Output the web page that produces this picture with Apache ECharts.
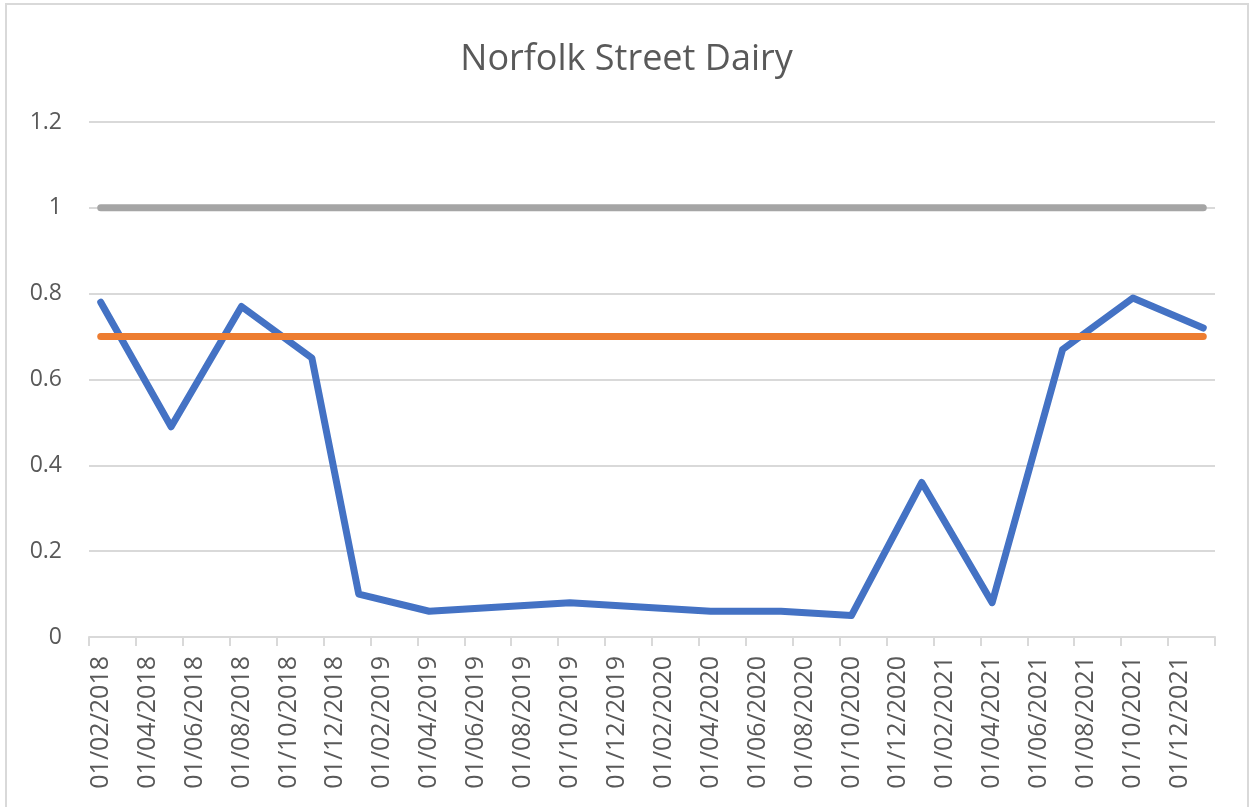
<!DOCTYPE html>
<html>
<head>
<meta charset="utf-8">
<title>Norfolk Street Dairy</title>
<script src="https://cdn.jsdelivr.net/npm/echarts@6/dist/echarts.min.js"></script>
<style>
    html, body { margin: 0; padding: 0; background: #ffffff; }
    #chart { width: 1253px; height: 807px; }
</style>
</head>
<body>
<div id="chart"></div>
<script>
// ── Data ────────────────────────────────────────
// one category per month, the axis labels every second one
const months = [
    '01/02/2018', '01/03/2018', '01/04/2018', '01/05/2018', '01/06/2018', '01/07/2018',
    '01/08/2018', '01/09/2018', '01/10/2018', '01/11/2018', '01/12/2018', '01/01/2019',
    '01/02/2019', '01/03/2019', '01/04/2019', '01/05/2019', '01/06/2019', '01/07/2019',
    '01/08/2019', '01/09/2019', '01/10/2019', '01/11/2019', '01/12/2019', '01/01/2020',
    '01/02/2020', '01/03/2020', '01/04/2020', '01/05/2020', '01/06/2020', '01/07/2020',
    '01/08/2020', '01/09/2020', '01/10/2020', '01/11/2020', '01/12/2020', '01/01/2021',
    '01/02/2021', '01/03/2021', '01/04/2021', '01/05/2021', '01/06/2021', '01/07/2021',
    '01/08/2021', '01/09/2021', '01/10/2021', '01/11/2021', '01/12/2021', '01/01/2022'
];

const sampleDates = [
    '01/02/2018', '01/05/2018', '01/08/2018', '01/11/2018', '01/01/2019', '01/04/2019',
    '01/07/2019', '01/10/2019', '01/01/2020', '01/04/2020', '01/07/2020', '01/10/2020',
    '01/01/2021', '01/04/2021', '01/07/2021', '01/10/2021', '01/01/2022'
];
const ratioValues = [
    0.78, 0.49, 0.77, 0.65, 0.10, 0.06,
    0.07, 0.08, 0.07, 0.06, 0.06, 0.05,
    0.36, 0.08, 0.67, 0.79, 0.72
];
const targetLevel = 0.7;
const limitLevel  = 1;

// ── Helpers ─────────────────────────────────────
const FONT = '"Open Sans", "Noto Sans", sans-serif';
const TEXT_COLOR = '#595959';
const GRID_COLOR = '#d9d9d9';

function levelLine(level) {
    const first = sampleDates[0];
    const last  = sampleDates[sampleDates.length - 1];
    return [[first, level], [last, level]];
}

const ratioData = sampleDates.map(function (d, i) { return [d, ratioValues[i]]; });

// ── Chart ───────────────────────────────────────
const chart = echarts.init(document.getElementById('chart'), null, { renderer: 'canvas' });

chart.setOption({
    backgroundColor: '#ffffff',
    animation: false,
    title: {
        text: 'Norfolk Street Dairy',
        left: 'center',
        top: 42,
        padding: 0,
        textStyle: {
            fontFamily: FONT,
            fontSize: 36,
            fontWeight: 'normal',
            color: TEXT_COLOR
        }
    },
    graphic: [{
        type: 'rect',
        shape: { x: 6, y: 4, width: 1242, height: 830 },
        style: { fill: null, stroke: GRID_COLOR, lineWidth: 2 },
        silent: true
    }],
    grid: {
        left: 89,
        right: 38,
        top: 122,
        bottom: 170
    },
    xAxis: {
        type: 'category',
        data: months,
        boundaryGap: true,
        axisLine: { lineStyle: { color: GRID_COLOR, width: 2 } },
        axisTick: {
            show: true,
            interval: 1,
            alignWithLabel: false,
            length: 9,
            lineStyle: { color: GRID_COLOR, width: 2 }
        },
        axisLabel: {
            interval: 1,
            rotate: 90,
            margin: 19,
            fontFamily: FONT,
            fontSize: 25,
            color: TEXT_COLOR
        },
        splitLine: { show: false }
    },
    yAxis: {
        type: 'value',
        min: 0,
        max: 1.2,
        interval: 0.2,
        axisLine: { show: false },
        axisTick: { show: false },
        axisLabel: {
            margin: 27,
            fontFamily: FONT,
            fontSize: 23,
            color: TEXT_COLOR
        },
        splitLine: { lineStyle: { color: GRID_COLOR, width: 2 } }
    },
    series: [
        {
            name: 'Ratio',
            type: 'line',
            data: ratioData,
            symbol: 'none',
            lineStyle: { color: '#4472c4', width: 7, cap: 'round', join: 'round' },
            z: 2
        },
        {
            name: 'Target',
            type: 'line',
            data: levelLine(targetLevel),
            symbol: 'none',
            lineStyle: { color: '#ed7d31', width: 7, cap: 'round' },
            z: 3
        },
        {
            name: 'Limit',
            type: 'line',
            data: levelLine(limitLevel),
            symbol: 'none',
            lineStyle: { color: '#a5a5a5', width: 7, cap: 'round' },
            z: 4
        }
    ]
});

window.addEventListener('resize', function () { chart.resize(); });
</script>
</body>
</html>
